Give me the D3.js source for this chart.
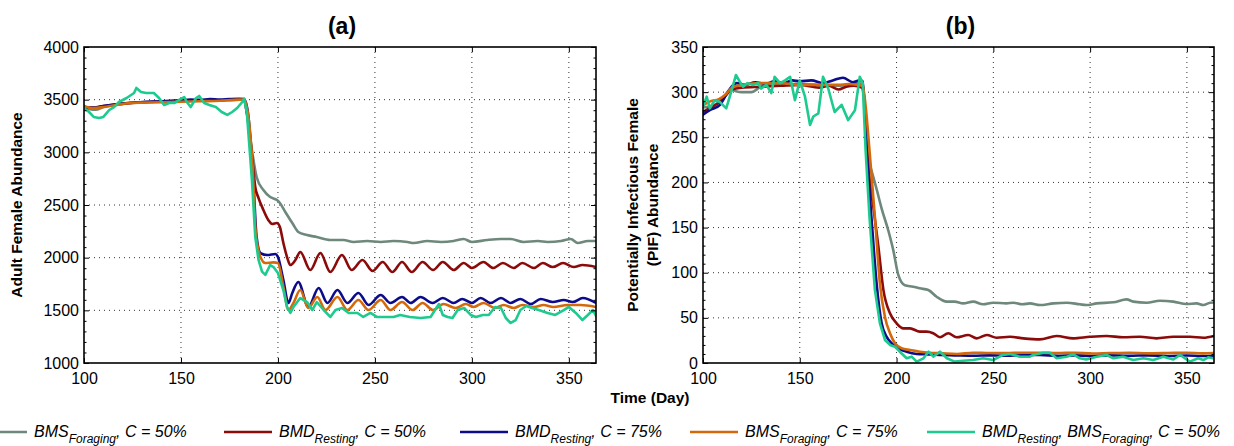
<!DOCTYPE html>
<html><head><meta charset="utf-8">
<script src="https://cdn.jsdelivr.net/npm/d3@7"></script>
<style>
body{margin:0;background:#fff}
svg{display:block}
text{font-family:"Liberation Sans",Arial,Helvetica,sans-serif;fill:#000}
</style></head>
<body><svg id="c" width="1234" height="446"></svg>
<script>
// ---------- tick labels / domains ----------
const xTicks = [100, 150, 200, 250, 300, 350];
const xDomain = [100, 364];
const yTicksA = [1000, 1500, 2000, 2500, 3000, 3500, 4000];
const yTicksB = [0, 50, 100, 150, 200, 250, 300, 350];
const panelTitles = ["(a)", "(b)"];
const yLabelA = ["Adult Female Abundance"];
const yLabelB = ["Potentially Infectious Female", "(PIF) Abundance"];
const xLabel = "Time (Day)";

// ---------- legend ----------
const legendLabels = [
  [["BMS","n"],["Foraging","s"],[", C = 50%","n"]],
  [["BMD","n"],["Resting","s"],[", C = 50%","n"]],
  [["BMD","n"],["Resting","s"],[", C = 75%","n"]],
  [["BMS","n"],["Foraging","s"],[", C = 75%","n"]],
  [["BMD","n"],["Resting","s"],[", BMS","n"],["Foraging","s"],[", C = 50%","n"]]
];
const seriesColors = ["#6e887c", "#8b0a0a", "#0c0c8a", "#d4690c", "#1ecb8f"];

// ---------- panel (a): adult female abundance, [day, value] ----------
const a_bmsF50 = [[100,3440],[103,3410],[106,3405],[110,3430],[115,3450],[120,3465],[125,3470],[130,3475],[140,3480],[150,3488],[160,3490],[170,3495],[178,3500],[182.5,3500],[184,3370],[186.8,2994],[189,2766],[192.5,2642],[196,2576],[199.5,2547],[201,2519],[203.8,2434],[207.4,2329],[210.5,2244],[215,2215],[220,2196],[227,2168],[233.8,2168],[239,2149],[246,2158],[253,2149],[259.6,2158],[266.8,2149],[270,2139],[277,2158],[284,2149],[290.6,2158],[295.8,2177],[300,2149],[308,2168],[315,2177],[320,2177],[326.7,2149],[334,2158],[339,2149],[346,2158],[351,2177],[354.6,2139],[359.8,2158],[364,2158]];
const a_bmdR50 = [[100,3430],[105,3425],[110,3440],[120,3460],[130,3475],[140,3482],[150,3490],[160,3492],[170,3495],[180,3500],[182.5,3500],[184,3373],[187,2899],[188.3,2671],[190,2566],[192.5,2453],[195,2358],[197,2320],[199.5,2329],[201,2291],[202.8,2139],[204.7,2006],[206.4,1930],[209,1978],[211.5,2054],[216.7,1883],[221.9,2044],[227,1864],[233,2025],[238,1883],[243.6,1978],[248.8,1873],[254,1959],[259,1864],[264,1959],[269,1864],[274.6,1959],[280,1883],[285,1959],[290.6,1883],[295.8,1949],[300,1902],[306,1959],[311,1902],[316,1949],[321.6,1902],[326,1949],[332,1902],[336.6,1949],[341.7,1911],[347,1949],[352.6,1911],[357,1930],[364,1911]];
const a_bmdR75 = [[100,3420],[105,3425],[110,3440],[115,3452],[120,3465],[125,3470],[130,3478],[140,3485],[150,3495],[155,3500],[160,3498],[165,3505],[170,3500],[175,3505],[180,3508],[182.5,3505],[184.5,3380],[187.3,2737],[189,2196],[191,2044],[194.5,2025],[198.7,2035],[200,2006],[202.8,1788],[205.4,1570],[207.4,1665],[210.5,1769],[215.7,1532],[221,1712],[225.5,1570],[230.7,1693],[235.8,1570],[241.5,1665],[246.7,1551],[253,1646],[258,1570],[264,1627],[268.4,1570],[273.5,1627],[279.7,1570],[285,1617],[290.6,1570],[295,1608],[300,1570],[304.5,1617],[309.7,1570],[315,1617],[320,1570],[325,1608],[330.4,1560],[335.5,1608],[341.7,1579],[347.4,1598],[352,1579],[357.2,1617],[364,1570]];
const a_bmsF75 = [[100,3440],[104,3420],[110,3430],[115,3445],[120,3460],[125,3470],[130,3472],[140,3475],[150,3480],[160,3485],[170,3490],[180,3500],[182.5,3500],[185,3300],[187,2850],[188.5,2250],[191,2006],[193.5,1949],[197.7,1955],[200,1949],[202.8,1722],[205.4,1503],[208,1570],[211.5,1693],[215.7,1522],[220.3,1627],[224.5,1503],[230.7,1627],[235.8,1503],[241.5,1598],[246.7,1503],[253,1598],[258,1503],[264,1579],[269.4,1503],[274.6,1570],[280,1503],[285.4,1560],[291.6,1522],[296.8,1560],[301,1532],[306,1570],[312,1522],[316.4,1551],[321.6,1522],[326,1551],[332,1532],[337,1551],[342,1532],[349.5,1551],[356,1551],[364,1532]];
const a_both50 = [[100,3421],[102.6,3383],[105,3336],[107.7,3326],[110,3336],[113,3402],[115.5,3430],[118,3478],[122,3516],[125.8,3563],[127,3611],[129.4,3573],[132,3563],[136,3563],[138.7,3516],[141.3,3449],[144,3468],[146.5,3468],[149,3497],[151.7,3525],[153,3478],[155,3430],[157.8,3516],[159.4,3535],[162,3468],[164.6,3449],[168,3430],[171,3383],[173.9,3355],[176.4,3383],[179,3421],[181.6,3478],[182.6,3510],[184,3370],[186.6,2737],[188.3,2199],[190,1978],[191.8,1867],[193.5,1836],[196,1930],[197.7,1911],[200,1854],[202.8,1693],[204.7,1532],[206.4,1475],[208,1532],[211.5,1617],[215,1579],[217.7,1503],[220,1579],[223.6,1503],[227,1437],[229.7,1503],[233,1522],[236.5,1475],[241,1475],[244,1437],[247.7,1475],[251,1437],[254.5,1437],[259.6,1437],[263,1456],[268,1437],[273.5,1427],[278.7,1437],[281,1503],[283,1560],[285,1456],[287.5,1437],[290,1427],[292.7,1503],[296,1522],[299.4,1456],[302,1437],[305.6,1456],[308.7,1456],[312,1532],[315,1522],[317.5,1427],[320,1380],[322.6,1408],[325,1503],[328,1541],[331,1522],[334.5,1503],[339,1475],[343,1456],[347.4,1503],[350,1532],[353.6,1475],[357,1408],[359.8,1456],[362.4,1503],[364,1446]];

// ---------- panel (b): PIF abundance, [day, value] ----------
const b_bmsF50 = [[100,283],[105,285],[110,292],[114,303],[117,301],[120,300],[125,300],[130,306],[140,309],[150,309],[160,308],[170,307],[180,310],[182.5,308],[183.5,285],[184.5,240],[186,222],[188,206],[190,190],[192.3,171],[195.7,147],[198.3,125],[200.9,97.5],[204.3,86],[208.6,84.5],[212,82.7],[216.4,80.9],[220.7,73.4],[225.9,68],[230,68],[234.4,66],[239.6,68],[244.7,65],[249.9,66.8],[256.8,66],[260.3,66.8],[265,65],[268.9,66],[274,64.2],[281,66],[287.9,66.8],[294.7,65],[298,64.2],[303.4,66],[312,67.2],[318.8,70.5],[322.3,68],[329.2,66.8],[336,69],[343,68],[349.8,65.3],[355,66],[358.5,64.2],[362,66.8],[364,67]];
const b_bmdR50 = [[100,278],[104,283],[108,288],[112,297],[115,303],[120,305],[130,306],[140,307],[150,308],[160,305],[165,307],[170,303],[174,306],[178,307],[182,305],[183.5,285],[184.7,240],[186,205],[188,173],[190.6,129],[193.2,81],[196.6,55],[200,44],[203.5,38.4],[207,38.4],[212,34.7],[215.5,34.7],[218.9,33],[222.4,28.5],[226.7,33],[231,28.5],[237,31],[241.4,27.3],[246.6,31],[251.7,28],[258.6,29],[265.5,27.3],[274,26.2],[282.7,29.9],[291.3,27.3],[299.9,29],[308.5,29.9],[317.1,28.5],[325.7,29],[334.3,27.3],[343,29],[351.5,29],[358.5,28],[364,30]];
const b_bmdR75 = [[100,275],[103.5,280],[108.8,286],[112,297],[114.8,306],[117.4,310],[122,308],[127,311],[132,309],[137,312],[142,310],[146,313],[150,312],[156,313],[162,310],[167,313],[172.3,316],[177.5,311],[181,313],[182.5,312],[184.5,236],[187,162],[189.7,88],[192.3,44],[194.9,29],[197.5,21.8],[200.9,16.3],[205.2,12.5],[210.4,10],[216,9.5],[222.4,8.9],[230,8.5],[239.6,8],[248,8.5],[256.8,8],[265,8.9],[274,8.9],[283,8],[292,8.5],[301,7.8],[310,8.5],[320,8],[330,8.5],[340,7.8],[350,8.3],[358,7.8],[364,8]];
const b_bmsF75 = [[100,285],[104,290],[108,292],[112,298],[115,305],[120,308],[130,310],[140,310],[150,308],[160,308],[170,308],[175,309],[180,308],[182.5,307],[184,285],[186,236],[188.8,162],[191.4,88],[194,51],[196.6,33],[199.2,21.8],[202.6,16.3],[207,14.4],[212,12.5],[217,11.4],[222.4,11],[231,10],[239.6,11.4],[248,11],[256.8,11],[265,11.4],[274,11.4],[283,11],[292,11.4],[301,10.5],[310,11],[320,11.4],[330,10.7],[340,11],[350,11.4],[358,10.7],[364,11]];
const b_both50 = [[100,284],[101.9,295],[103.5,282],[106,291],[108.8,289],[112,282],[114.8,302],[117,319],[119,311.6],[120.7,306],[123,310],[125.8,308],[128.4,310],[130,304],[132.8,308],[135.3,299],[137,317],[139.8,310],[142.4,313],[145,317],[147.5,291],[150,313],[152.7,295],[155.3,263.6],[157,273],[159.6,276.5],[162,317],[164.7,304],[168,278],[171.6,286],[175,269],[178.5,280],[181,317],[182.5,310],[184,236],[186,162],[188.8,81],[191.4,44],[194,25.5],[196.6,20],[199.2,18],[201.7,12.5],[205.2,5.2],[207.8,7],[210.4,1.5],[213.9,5.2],[216.5,12.5],[219,7],[222.4,12.5],[226,5.2],[230,1.5],[234.4,2.5],[239.6,3.3],[244.7,5.2],[249.9,3.3],[255,8.9],[258.6,10],[263.7,7],[268.9,7],[270.6,8.9],[275.8,11.4],[279.2,11.4],[282.7,5.2],[287.9,7],[291.3,9.6],[294.7,5.2],[298,4],[303.4,7],[308.5,8.9],[312,5.2],[317,7],[322.3,3.3],[327.5,5.2],[332.6,3.3],[337.8,7],[343,4],[346.5,8.9],[351.5,1.5],[355.8,5.2],[358.5,3.3],[361,6.3],[364,5]];

// ---------- drawing ----------
const svg = d3.select("#c");
const plotTop = 47, plotBottom = 363;
const panels = [
  {left:84, right:596, yDomain:[1000,4000], yTicks:yTicksA, minor:100,
   series:[a_bmsF50,a_bmdR50,a_bmdR75,a_bmsF75,a_both50], title:panelTitles[0], ylab:yLabelA, ylabX:[22]},
  {left:703, right:1214, yDomain:[0,350], yTicks:yTicksB, minor:10,
   series:[b_bmsF50,b_bmdR50,b_bmdR75,b_bmsF75,b_both50], title:panelTitles[1], ylab:yLabelB, ylabX:[638,658]}
];
const tickFont = 16;
const fmt = d3.format("d");

panels.forEach((p, pi) => {
  const x = d3.scaleLinear().domain(xDomain).range([p.left, p.right]);
  const y = d3.scaleLinear().domain(p.yDomain).range([plotBottom, plotTop]);
  const g = svg.append("g");

  // grid (dotted)
  const grid = g.append("g").attr("stroke", "#333").attr("stroke-width", 1).attr("stroke-dasharray", "1,4");
  grid.selectAll("line.gx").data(xTicks.filter(t => t > xDomain[0] && t < xDomain[1])).join("line")
    .attr("x1", d => x(d)).attr("x2", d => x(d)).attr("y1", plotTop).attr("y2", plotBottom);
  grid.selectAll("line.gy").data(p.yTicks.filter(t => t > p.yDomain[0] && t < p.yDomain[1])).join("line")
    .attr("x1", p.left).attr("x2", p.right).attr("y1", d => y(d)).attr("y2", d => y(d));

  // clip
  const cid = "clip" + pi;
  svg.append("clipPath").attr("id", cid).append("rect")
    .attr("x", p.left).attr("y", plotTop).attr("width", p.right - p.left).attr("height", plotBottom - plotTop);

  // series
  const lineSmooth = d3.line().x(d => x(d[0])).y(d => y(d[1])).curve(d3.curveMonotoneX);
  const lineRough = d3.line().x(d => x(d[0])).y(d => y(d[1])).curve(d3.curveLinear);
  g.append("g").attr("clip-path", `url(#${cid})`).selectAll("path").data(p.series).join("path")
    .attr("d", (d, i) => i === 4 ? lineRough(d) : lineSmooth(d))
    .attr("fill", "none").attr("stroke", (d, i) => seriesColors[i])
    .attr("stroke-width", 2.6).attr("stroke-linejoin", "round").attr("stroke-linecap", "round");

  // axes
  const styleAxis = sel => {
    sel.select(".domain").remove();
    sel.selectAll(".tick line").attr("stroke", "#000").attr("stroke-width", 1);
    sel.selectAll("text").attr("font-size", tickFont).attr("fill", "#000")
      .attr("font-family", '"Liberation Sans",Arial,sans-serif');
  };
  g.append("g").attr("transform", `translate(0,${plotBottom})`)
    .call(d3.axisBottom(x).tickValues(xTicks).tickFormat(fmt).tickSize(-5).tickPadding(9.5)).call(styleAxis);
  g.append("g").attr("transform", `translate(0,${plotTop})`)
    .call(d3.axisTop(x).tickValues(xTicks).tickSize(-5).tickFormat("")).call(styleAxis);
  g.append("g").attr("transform", `translate(${p.left},0)`)
    .call(d3.axisLeft(y).tickValues(p.yTicks).tickFormat(fmt).tickSize(-5).tickPadding(5)).call(styleAxis);
  g.append("g").attr("transform", `translate(${p.right},0)`)
    .call(d3.axisRight(y).tickValues(p.yTicks).tickSize(-5).tickFormat("")).call(styleAxis);
  const minorVals = d3.range(p.yDomain[0], p.yDomain[1] + 1e-9, p.minor).filter(v => !p.yTicks.includes(v));
  g.append("g").attr("transform", `translate(${p.left},0)`)
    .call(d3.axisLeft(y).tickValues(minorVals).tickSize(-2.5).tickFormat("")).call(styleAxis);
  g.append("g").attr("transform", `translate(${p.right},0)`)
    .call(d3.axisRight(y).tickValues(minorVals).tickSize(-2.5).tickFormat("")).call(styleAxis);

  // box
  g.append("rect").attr("x", p.left).attr("y", plotTop).attr("width", p.right - p.left).attr("height", plotBottom - plotTop)
    .attr("fill", "none").attr("stroke", "#000").attr("stroke-width", 1.6);

  // title
  g.append("text").attr("x", (p.left + p.right) / 2 + 2).attr("y", 34).attr("text-anchor", "middle")
    .attr("font-size", 23).attr("font-weight", "bold").text(p.title);

  // y label
  p.ylab.forEach((t, i) => {
    g.append("text").attr("transform", `translate(${p.ylabX[i]},${(plotTop + plotBottom) / 2}) rotate(-90)`)
      .attr("text-anchor", "middle").attr("font-size", 15.5).attr("font-weight", "bold").text(t);
  });
});

// x label
svg.append("text").attr("x", 650).attr("y", 403).attr("text-anchor", "middle")
  .attr("font-size", 15.5).attr("font-weight", "bold").text(xLabel);

// legend
const legendStarts = [-21, 224, 460, 690, 927];
const legY = 432;
const leg = svg.append("g");
legendLabels.forEach((segs, i) => {
  const x0 = legendStarts[i];
  leg.append("line").attr("x1", x0).attr("x2", x0 + 48).attr("y1", legY).attr("y2", legY)
    .attr("stroke", seriesColors[i]).attr("stroke-width", 2.6);
  const t = leg.append("text").attr("x", x0 + 55).attr("y", legY + 5).attr("font-style", "italic").attr("font-size", 16);
  let level = 0;
  segs.forEach(([s, k]) => {
    const target = k === "s" ? 6 : 0;
    t.append("tspan").attr("dy", target - level).attr("font-size", k === "s" ? 12 : 16).text(s);
    level = target;
  });
});
</script>
</body></html>
